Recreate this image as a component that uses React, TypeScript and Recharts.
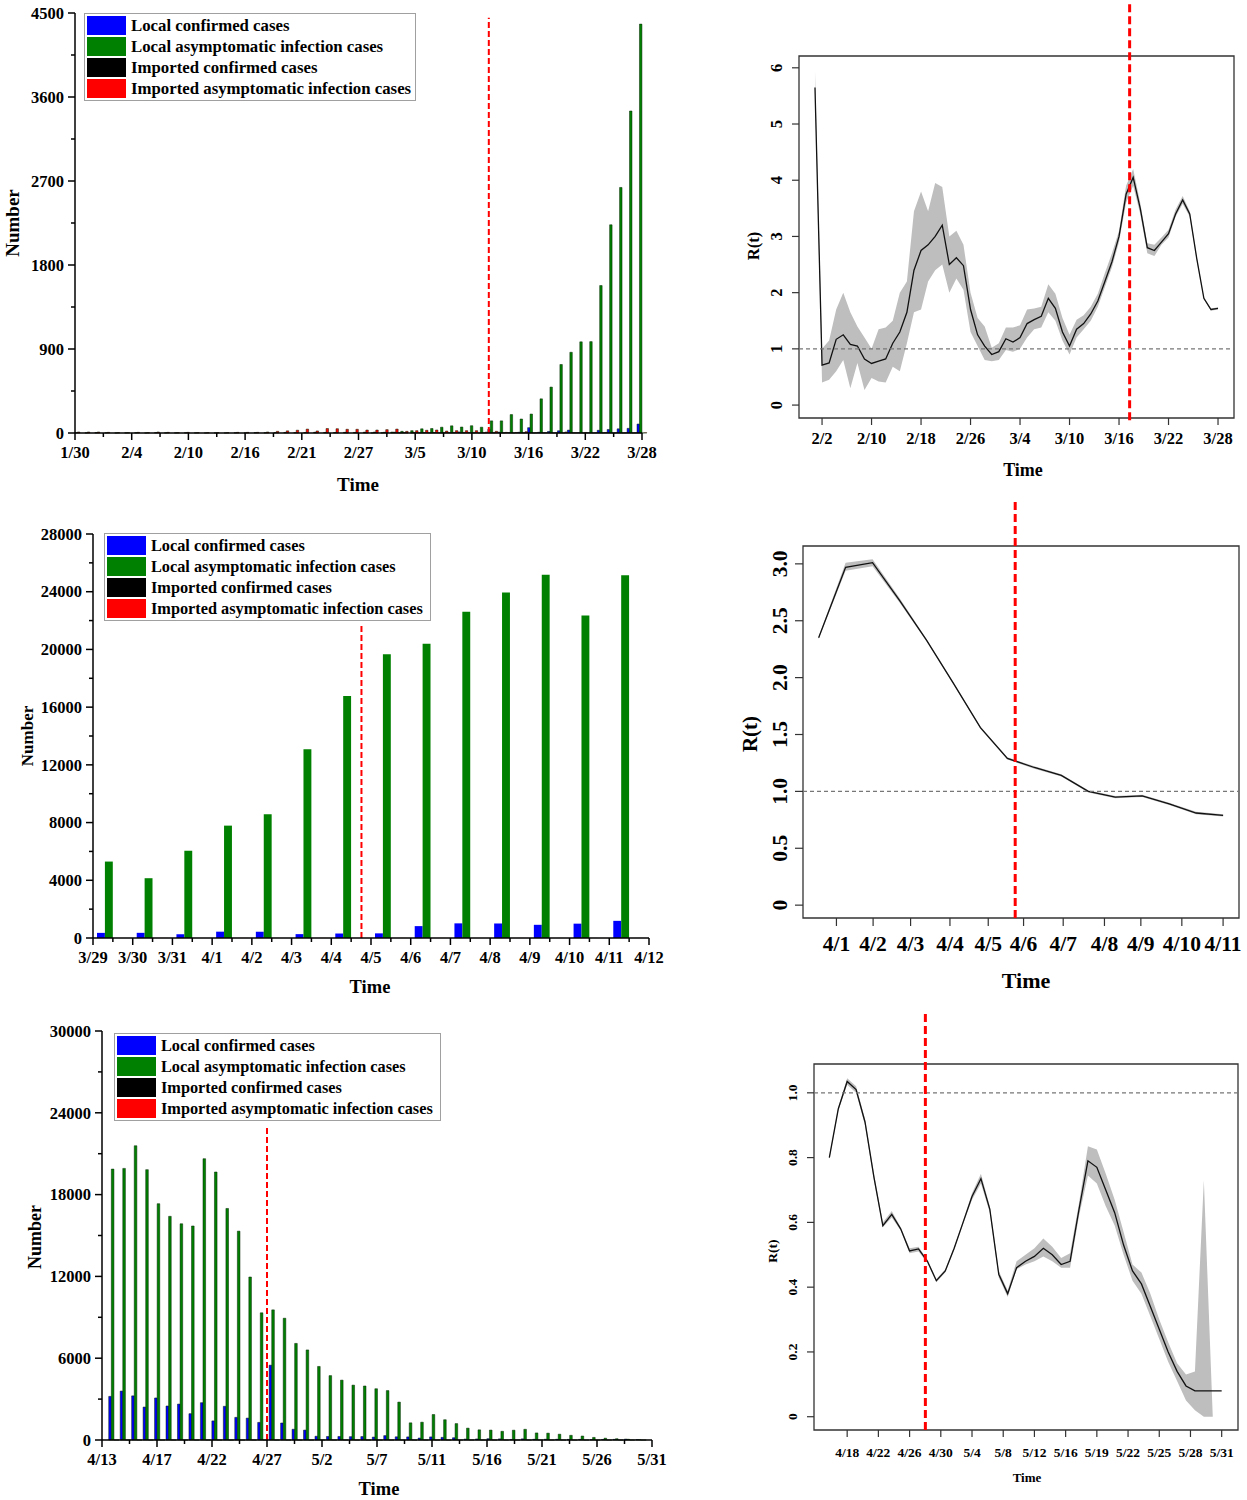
import React from 'react';
import { BarChart, Bar, ComposedChart, Area, Line, XAxis, YAxis, ReferenceLine, ReferenceArea, Legend } from 'recharts';

const SERIF = "'Liberation Serif', 'Times New Roman', serif";

// the four case series shared by the bar panels
const seriesKeys = ['localConfirmed', 'localAsym', 'importConfirmed', 'importAsym'];
const seriesNames = [
  'Local confirmed cases',
  'Local asymptomatic infection cases',
  'Imported confirmed cases',
  'Imported asymptomatic infection cases',
];
const seriesColors = ['#0000ff', '#008000', '#000000', '#ff0000'];

// period 1: 1/30 - 3/28, one value per day
const p1LocalConfirmed = [
  0, 0, 0, 0, 0, 0, 0, 0, 0, 0, 0, 0, 0, 0, 0, 0, 0, 0, 0, 0, 0, 0, 0, 0, 0, 0, 0, 0, 0, 0,
  0, 0, 0, 3, 0, 3, 3, 3, 4, 11, 5, 1, 41, 9, 5, 8, 57, 8, 17, 24, 31, 4, 4, 29, 38, 45, 50, 96,
];
const p1LocalAsym = [
  0, 0, 0, 0, 0, 0, 0, 0, 0, 0, 0, 0, 0, 0, 0, 0, 0, 0, 0, 0, 0, 0, 0, 0, 0, 0, 0, 0, 0, 0,
  1, 3, 10, 18, 25, 45, 48, 62, 77, 64, 78, 62, 130, 130, 197, 150, 203, 366, 492, 734, 865, 977, 979, 1580, 2231, 2631, 3450, 4381,
];
const p1ImportConfirmed = [
  3, 2, 4, 2, 1, 2, 3, 1, 4, 2, 2, 3, 2, 1, 2, 1, 3, 2, 4, 3, 5, 6, 4, 5, 8, 6, 5, 7, 6, 9,
  10, 8, 9, 5, 6, 4, 5, 3, 4, 3, 2, 2, 3, 2, 1, 2, 1, 2, 1, 1, 2, 1, 1, 2, 1, 1, 1, 1,
];
const p1ImportAsym = [
  11, 11, 11, 7, 4, 4, 7, 4, 11, 7, 4, 7, 4, 4, 4, 4, 7, 7, 7, 11, 18, 23, 30, 42, 22, 48, 46, 40, 40, 32,
  32, 36, 42, 18, 25, 29, 32, 21, 25, 25, 25, 10, 18, 7, 6, 14, 3, 3, 3, 11, 3, 6, 3, 6, 3, 3, 3, 3,
];
const p1TickLabels = ['1/30', '2/4', '2/10', '2/16', '2/21', '2/27', '3/5', '3/10', '3/16', '3/22', '3/28'];

// period 2: 3/29 - 4/11
const p3LocalConfirmed = [355, 358, 260, 438, 425, 268, 311, 322, 824, 1015, 1006, 914, 994, 1189];
const p3LocalAsym = [5298, 4144, 6051, 7788, 8581, 13086, 16766, 19660, 20398, 22609, 23937, 25173, 22348, 25141];
const p3ImportConfirmed = [1, 2, 0, 1, 3, 2, 1, 1, 2, 0, 1, 2, 3, 1];
const p3ImportAsym = [3, 4, 2, 3, 2, 3, 2, 4, 3, 2, 3, 4, 2, 3];
const p3TickLabels = ['3/29', '3/30', '3/31', '4/1', '4/2', '4/3', '4/4', '4/5', '4/6', '4/7', '4/8', '4/9', '4/10', '4/11', '4/12'];

// period 3: 4/13 - 5/31
const p5LocalConfirmed = [
  3200, 3590, 3238, 2417, 3084, 2494, 2634, 1931, 2736, 1401, 2472, 1661, 1606, 1292, 5487, 1249,
  788, 727, 274, 260, 261, 245, 253, 215, 322, 234, 228, 144, 227, 194, 166, 69,
  77, 96, 82, 39, 84, 52, 55, 55, 44, 45, 29, 39, 45, 67, 29,
];
const p5LocalAsym = [
  19872, 19923, 21582, 19831, 17332, 16407, 15861, 15698, 20634, 19657, 16983, 15319, 11956, 9330, 9545, 8932,
  7084, 6606, 5395, 4722, 4390, 4024, 3961, 3760, 3625, 2780, 1259, 1305, 1869, 1487, 1203, 869,
  746, 727, 637, 719, 784, 518, 503, 425, 343, 290, 190, 131, 93, 55, 20,
];
const p5ImportConfirmed = [
  3, 2, 4, 1, 2, 3, 2, 1, 3, 2, 1, 2, 3, 2, 1, 2,
  3, 1, 2, 2, 1, 3, 2, 1, 2, 1, 2, 3, 1, 2, 1, 2,
  1, 3, 2, 1, 2, 1, 2, 1, 2, 1, 1, 2, 1, 1, 1,
];
const p5ImportAsym = [
  4, 3, 2, 5, 3, 2, 4, 3, 2, 3, 4, 2, 3, 2, 4, 3,
  2, 3, 2, 4, 2, 3, 2, 2, 3, 2, 1, 2, 3, 1, 2, 2,
  1, 2, 1, 2, 1, 1, 2, 1, 1, 2, 1, 1, 1, 1, 1,
];
const p5TickLabels = ['4/13', '4/17', '4/22', '4/27', '5/2', '5/7', '5/11', '5/16', '5/21', '5/26', '5/31'];

// R(t) estimates with their confidence band
const p2Rt = [
  5.65, 0.71, 0.75, 1.17, 1.25, 1.08, 1.05, 0.82, 0.74, 0.78, 0.82, 1.1, 1.3, 1.65, 2.4, 2.75, 2.85, 3.0, 3.2, 2.5,
  2.62, 2.48, 1.7, 1.25, 1.05, 0.9, 0.95, 1.18, 1.12, 1.2, 1.45, 1.52, 1.58, 1.9, 1.72, 1.3, 1.05, 1.35, 1.45, 1.62,
  1.85, 2.2, 2.55, 3.0, 3.75, 4.05, 3.5, 2.8, 2.75, 2.9, 3.05, 3.4, 3.65, 3.4, 2.6, 1.9, 1.7, 1.72,
];
const p2Low = [
  5.6, 0.4, 0.45, 0.6, 0.8, 0.3, 0.75, 0.27, 0.48, 0.42, 0.4, 0.68, 0.6, 1.1, 1.65, 1.7, 2.2, 2.4, 2.5, 2.0,
  2.25, 2.05, 1.3, 1.05, 0.8, 0.78, 0.8, 0.98, 0.95, 1.0, 1.2, 1.35, 1.38, 1.65, 1.5, 1.15, 0.9, 1.2, 1.35, 1.5,
  1.75, 2.1, 2.45, 2.9, 3.6, 3.9, 3.4, 2.7, 2.65, 2.85, 2.98, 3.35, 3.58, 3.35, 2.57, 1.88, 1.68, 1.7,
];
const p2High = [
  5.95, 1.0, 1.15, 1.7, 2.0, 1.65, 1.4, 1.2, 1.0, 1.35, 1.38, 1.5, 2.0, 2.2, 3.45, 3.8, 3.45, 3.95, 3.88, 3.0,
  3.1, 2.85, 2.0, 1.55, 1.4, 1.02, 1.1, 1.38, 1.38, 1.42, 1.7, 1.72, 1.75, 2.15, 1.98, 1.55, 1.25, 1.52, 1.6, 1.75,
  1.98, 2.35, 2.7, 3.1, 3.9, 4.2, 3.6, 2.88, 2.85, 2.98, 3.12, 3.48, 3.72, 3.45, 2.63, 1.92, 1.72, 1.74,
];
const p2TickLabels = ['2/2', '2/10', '2/18', '2/26', '3/4', '3/10', '3/16', '3/22', '3/28'];

const p4Rt = [2.35, 2.97, 3.01, 2.68, 2.33, 1.95, 1.56, 1.29, 1.21, 1.14, 1.0, 0.95, 0.96, 0.89, 0.81, 0.79];
const p4Low = [2.34, 2.94, 2.98, 2.66, 2.32, 1.94, 1.55, 1.28, 1.2, 1.13, 0.99, 0.94, 0.95, 0.88, 0.8, 0.78];
const p4High = [2.36, 3.01, 3.04, 2.7, 2.34, 1.96, 1.57, 1.3, 1.22, 1.15, 1.01, 0.96, 0.97, 0.9, 0.82, 0.8];
const p4TickAt = [0.66, 2.02, 3.41, 4.87, 6.29, 7.6, 9.07, 10.6, 11.95, 13.47, 15.0];
const p4TickLabels = ['4/1', '4/2', '4/3', '4/4', '4/5', '4/6', '4/7', '4/8', '4/9', '4/10', '4/11'];

const p6Rt = [
  0.8, 0.95, 1.035, 1.01, 0.91, 0.74, 0.59, 0.625, 0.58, 0.512, 0.518, 0.48, 0.42, 0.45, 0.52, 0.6,
  0.68, 0.735, 0.64, 0.44, 0.38, 0.46, 0.48, 0.495, 0.52, 0.5, 0.47, 0.48, 0.64, 0.79, 0.77, 0.7,
  0.63, 0.53, 0.45, 0.41, 0.34, 0.27, 0.2, 0.14, 0.095, 0.08, 0.08, 0.08, 0.08,
];
const p6Low = [
  0.795, 0.945, 1.025, 1.0, 0.9, 0.73, 0.585, 0.615, 0.575, 0.505, 0.51, 0.475, 0.415, 0.445, 0.515, 0.595,
  0.67, 0.72, 0.63, 0.43, 0.37, 0.455, 0.47, 0.48, 0.495, 0.48, 0.46, 0.46, 0.62, 0.745, 0.72, 0.65,
  0.59, 0.5, 0.42, 0.38, 0.31, 0.24, 0.17, 0.11, 0.05, 0.02, 0.0, 0.0, 0.08,
];
const p6High = [
  0.805, 0.955, 1.045, 1.02, 0.92, 0.75, 0.6, 0.635, 0.585, 0.52, 0.525, 0.485, 0.425, 0.455, 0.525, 0.605,
  0.69, 0.75, 0.65, 0.45, 0.39, 0.48, 0.5, 0.52, 0.55, 0.525, 0.49, 0.505, 0.66, 0.835, 0.825, 0.75,
  0.67, 0.57, 0.47, 0.445, 0.38, 0.3, 0.23, 0.165, 0.13, 0.14, 0.73, 0.0, 0.08,
];
const p6TickLabels = ['4/18', '4/22', '4/26', '4/30', '5/4', '5/8', '5/12', '5/16', '5/19', '5/22', '5/25', '5/28', '5/31'];

const caseRows = (lists: number[][], shift: number) =>
  lists[0].map((_, i) => {
    const row: any = { x: i + shift };
    seriesKeys.forEach((k, s) => (row[k] = lists[s][i]));
    return row;
  });

const rtRows = (rt: number[], lo: number[], hi: number[]) =>
  rt.map((r, i) => ({ x: i, rt: r, band: [lo[i], hi[i]] }));

const near = (list: number[], v: number) => list.findIndex((m) => Math.abs(m - v) < 1e-6);

// axis title drawn through the axis label slot
const title = (text: string, x: number, y: number, size: number, vertical = false) => ({
  content: () => (
    <text
      x={x}
      y={y}
      textAnchor="middle"
      dominantBaseline="central"
      transform={vertical ? `rotate(-90 ${x} ${y})` : undefined}
      fontFamily={SERIF}
      fontWeight="bold"
      fontSize={size}
      fill="#000"
    >
      {text}
    </text>
  ),
});

// Origin style ticks: outward, minor ticks without label
const originXTick = (majors: number[], labels: string[], fs: number) => (p: any) => {
  const i = near(majors, p.payload.value);
  return (
    <g>
      <line x1={p.x} x2={p.x} y1={p.y} y2={p.y + (i >= 0 ? 7 : 4)} stroke="#000" strokeWidth={1.5} />
      {i >= 0 && (
        <text x={p.x} y={p.y + 25} textAnchor="middle" fontFamily={SERIF} fontWeight="bold" fontSize={fs} fill="#000">
          {labels[i]}
        </text>
      )}
    </g>
  );
};

const originYTick = (majors: number[], fs: number) => (p: any) => {
  const i = near(majors, p.payload.value);
  return (
    <g>
      <line x1={p.x} x2={p.x - (i >= 0 ? 7 : 4)} y1={p.y} y2={p.y} stroke="#000" strokeWidth={1.5} />
      {i >= 0 && (
        <text x={p.x - 11} y={p.y} dy="0.35em" textAnchor="end" fontFamily={SERIF} fontWeight="bold" fontSize={fs} fill="#000">
          {majors[i]}
        </text>
      )}
    </g>
  );
};

// R base graphics style ticks
const rXTick = (at: number[], labels: string[], fs: number, len: number, base: number) => (p: any) => {
  const i = near(at, p.payload.value);
  return (
    <g>
      <line x1={p.x} x2={p.x} y1={p.y} y2={p.y + len} stroke="#333" strokeWidth={1.2} />
      <text x={p.x} y={p.y + base} textAnchor="middle" fontFamily={SERIF} fontWeight="bold" fontSize={fs} fill="#000">
        {labels[i]}
      </text>
    </g>
  );
};

const rYTick = (at: number[], labels: string[], fs: number, len: number, off: number) => (p: any) => {
  const i = near(at, p.payload.value);
  const tx = p.x - off;
  return (
    <g>
      <line x1={p.x} x2={p.x - len} y1={p.y} y2={p.y} stroke="#333" strokeWidth={1.2} />
      <text
        x={tx}
        y={p.y}
        transform={`rotate(-90 ${tx} ${p.y})`}
        textAnchor="middle"
        dominantBaseline="central"
        fontFamily={SERIF}
        fontWeight="bold"
        fontSize={fs}
        fill="#000"
      >
        {labels[i]}
      </text>
    </g>
  );
};

const CaseLegend = ({ fs }: { fs: number }) => (
  <div style={{ border: '1px solid #a0a0a0', background: '#fff', padding: '1px 2px', fontFamily: SERIF }}>
    {seriesNames.map((n, i) => (
      <div key={n} style={{ display: 'flex', alignItems: 'center', height: 21 }}>
        <span style={{ width: 39, height: 19, flexShrink: 0, background: seriesColors[i], display: 'inline-block' }} />
        <span style={{ marginLeft: 5, fontWeight: 'bold', fontSize: fs, color: '#000', whiteSpace: 'nowrap' }}>{n}</span>
      </div>
    ))}
  </div>
);

function CasesChart(props: any) {
  const { rows, w, h, top, right, yWidth, xHeight, xMax, xMajors, xMinors, xLabels, yMax, yStep, barSize, outline, cut, cutTop, legend, legendFs, numberAt, timeAt, numberSize, timeSize } = props;
  const yMajors: number[] = [];
  for (let v = 0; v <= yMax; v += yStep) yMajors.push(v);
  const yMinors = yMajors.slice(1).map((v) => v - yStep / 2);
  return (
    <BarChart width={w} height={h} data={rows} margin={{ top, right, left: 0, bottom: 0 }} barGap={0}>
      <XAxis
        dataKey="x"
        type="number"
        domain={[0, xMax]}
        ticks={[...xMajors, ...xMinors]}
        interval={0}
        tickSize={0}
        tickMargin={0}
        tickLine={false}
        height={xHeight}
        axisLine={{ stroke: '#000', strokeWidth: 1.5 }}
        tick={originXTick(xMajors, xLabels, 16.5)}
        label={title('Time', timeAt[0], timeAt[1], timeSize)}
      />
      <YAxis
        type="number"
        domain={[0, yMax]}
        ticks={[...yMajors, ...yMinors]}
        interval={0}
        tickSize={0}
        tickMargin={0}
        tickLine={false}
        width={yWidth}
        axisLine={{ stroke: '#000', strokeWidth: 1.5 }}
        tick={originYTick(yMajors, 16.5)}
        label={title('Number', numberAt[0], numberAt[1], numberSize, true)}
      />
      <Legend
        content={() => <CaseLegend fs={legendFs} />}
        layout="vertical"
        align="center"
        verticalAlign="middle"
        wrapperStyle={{ left: legend[0], top: legend[1], width: legend[2] }}
      />
      {seriesKeys.map((k, i) => (
        <Bar
          key={k}
          dataKey={k}
          name={seriesNames[i]}
          fill={seriesColors[i]}
          stroke={outline ? '#002200' : 'none'}
          strokeWidth={outline ? 0.5 : 0}
          barSize={barSize}
          isAnimationActive={false}
        />
      ))}
      <ReferenceLine
        segment={[{ x: cut, y: 0 }, { x: cut, y: cutTop }]}
        stroke="#ff0000"
        strokeWidth={2}
        strokeDasharray="6 3"
        ifOverflow="visible"
      />
    </BarChart>
  );
}

function RtChart(props: any) {
  const { rows, w, h, top, right, yWidth, xHeight, xDomain, yDomain, xTicks, xLabels, yTicks, yLabels, fs, len, yOff, xBase, cut, cutY, rtAt, timeAt, rtSize, timeSize } = props;
  return (
    <ComposedChart width={w} height={h} data={rows} margin={{ top, right, left: 0, bottom: 0 }}>
      <XAxis
        dataKey="x"
        type="number"
        domain={xDomain}
        allowDataOverflow
        ticks={xTicks}
        interval={0}
        tickSize={0}
        tickMargin={0}
        tickLine={false}
        axisLine={false}
        height={xHeight}
        tick={rXTick(xTicks, xLabels, fs, len, xBase)}
        label={title('Time', timeAt[0], timeAt[1], timeSize)}
      />
      <YAxis
        type="number"
        domain={yDomain}
        allowDataOverflow
        ticks={yTicks}
        interval={0}
        tickSize={0}
        tickMargin={0}
        tickLine={false}
        axisLine={false}
        width={yWidth}
        tick={rYTick(yTicks, yLabels, fs, len, yOff)}
        label={title('R(t)', rtAt[0], rtAt[1], rtSize, true)}
      />
      <Area dataKey="band" type="linear" fill="#bebebe" fillOpacity={1} stroke="none" isAnimationActive={false} />
      <Line dataKey="rt" type="linear" stroke="#111" strokeWidth={1.3} dot={false} isAnimationActive={false} />
      <ReferenceLine y={1} stroke="#777" strokeWidth={1.2} strokeDasharray="4 3" />
      <ReferenceArea
        x1={xDomain[0]}
        x2={xDomain[1]}
        y1={yDomain[0]}
        y2={yDomain[1]}
        fill="none"
        stroke="#333"
        strokeWidth={1.3}
        ifOverflow="visible"
      />
      <ReferenceLine
        segment={[{ x: cut, y: cutY[0] }, { x: cut, y: cutY[1] }]}
        stroke="#ff0000"
        strokeWidth={3}
        strokeDasharray="8 4"
        ifOverflow="visible"
      />
    </ComposedChart>
  );
}

const p1Majors = p1TickLabels.map((_, i) => i * 5.7);
const p3Majors = p3TickLabels.map((_, i) => i);
const p5Majors = p5TickLabels.map((_, i) => i * 4.8);
const midpoints = (m: number[]) => m.slice(1).map((v, i) => (v + m[i]) / 2);

export default function App() {
  return (
    <div style={{ position: 'absolute', left: 0, top: 0, width: 1247, height: 1500, background: '#fff' }}>
      <div style={{ position: 'absolute', left: 0, top: 0 }}>
        <CasesChart
          rows={caseRows([p1LocalConfirmed, p1LocalAsym, p1ImportConfirmed, p1ImportAsym], 0)}
          w={660} h={500} top={13} right={18} yWidth={75} xHeight={67}
          xMax={57} xMajors={p1Majors} xMinors={midpoints(p1Majors)} xLabels={p1TickLabels}
          yMax={4500} yStep={900} barSize={2.45} outline cut={41.6} cutTop={4450}
          legend={[84, 13, 332]} legendFs={16.8} numberAt={[12, 223]} timeAt={[358, 484]} numberSize={19} timeSize={19}
        />
      </div>
      <div style={{ position: 'absolute', left: 0, top: 505 }}>
        <CasesChart
          rows={caseRows([p3LocalConfirmed, p3LocalAsym, p3ImportConfirmed, p3ImportAsym], 0.5)}
          w={670} h={495} top={29} right={21} yWidth={93} xHeight={62}
          xMax={14} xMajors={p3Majors} xMinors={midpoints(p3Majors)} xLabels={p3TickLabels}
          yMax={28000} yStep={4000} barSize={7.9} cut={6.76} cutTop={21700}
          legend={[104, 28, 327]} legendFs={16.3} numberAt={[27, 231]} timeAt={[370, 482]} numberSize={17} timeSize={18.5}
        />
      </div>
      <div style={{ position: 'absolute', left: 0, top: 1005 }}>
        <CasesChart
          rows={caseRows([p5LocalConfirmed, p5LocalAsym, p5ImportConfirmed, p5ImportAsym], 1)}
          w={680} h={495} top={26} right={28} yWidth={102} xHeight={60}
          xMax={48} xMajors={p5Majors} xMinors={midpoints(p5Majors)} xLabels={p5TickLabels}
          yMax={30000} yStep={6000} barSize={2.6} outline cut={14.4} cutTop={22900}
          legend={[114, 28, 327]} legendFs={16.3} numberAt={[35, 232]} timeAt={[379, 484]} numberSize={18} timeSize={18.5}
        />
      </div>
      <div style={{ position: 'absolute', left: 700, top: 0 }}>
        <RtChart
          rows={rtRows(p2Rt, p2Low, p2High)}
          w={547} h={500} top={56} right={13} yWidth={99} xHeight={82}
          xDomain={[-2.26, 59.26]} yDomain={[-0.23, 6.21]}
          xTicks={p2TickLabels.map((_, i) => 1 + i * 7)} xLabels={p2TickLabels}
          yTicks={[0, 1, 2, 3, 4, 5, 6]} yLabels={['0', '1', '2', '3', '4', '5', '6']}
          fs={16.5} len={7} yOff={22} xBase={26} cut={44.5} cutY={[-0.27, 7.15]}
          rtAt={[53, 246]} timeAt={[323, 470]} rtSize={16.5} timeSize={18}
        />
      </div>
      <div style={{ position: 'absolute', left: 700, top: 500 }}>
        <RtChart
          rows={rtRows(p4Rt, p4Low, p4High)}
          w={547} h={500} top={46} right={8} yWidth={103} xHeight={82}
          xDomain={[-0.58, 15.59]} yDomain={[-0.113, 3.157]}
          xTicks={p4TickAt} xLabels={p4TickLabels}
          yTicks={[0, 0.5, 1, 1.5, 2, 2.5, 3]} yLabels={['0', '0.5', '1.0', '1.5', '2.0', '2.5', '3.0']}
          fs={21.5} len={8} yOff={23} xBase={33} cut={7.29} cutY={[-0.113, 3.56]}
          rtAt={[50, 234]} timeAt={[326, 480]} rtSize={21} timeSize={22}
        />
      </div>
      <div style={{ position: 'absolute', left: 700, top: 1000 }}>
        <RtChart
          rows={rtRows(p6Rt, p6Low, p6High)}
          w={547} h={500} top={64} right={9} yWidth={114} xHeight={70}
          xDomain={[-1.72, 45.83]} yDomain={[-0.041, 1.089]}
          xTicks={p6TickLabels.map((_, i) => 2 + i * 3.5)} xLabels={p6TickLabels}
          yTicks={[0, 0.2, 0.4, 0.6, 0.8, 1]} yLabels={['0', '0.2', '0.4', '0.6', '0.8', '1.0']}
          fs={13.5} len={7} yOff={21} xBase={26.5} cut={10.77} cutY={[-0.041, 1.25]}
          rtAt={[72, 251]} timeAt={[327, 477]} rtSize={13.5} timeSize={13}
        />
      </div>
    </div>
  );
}
